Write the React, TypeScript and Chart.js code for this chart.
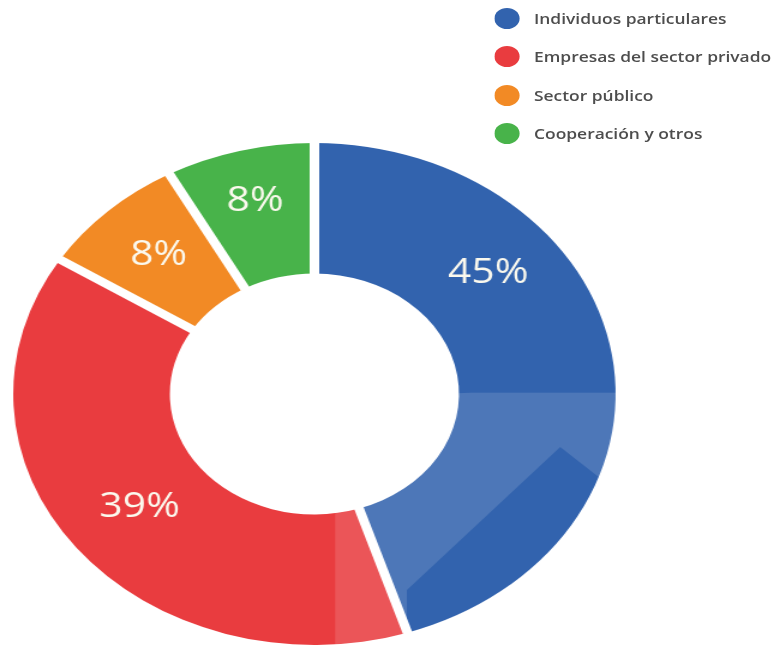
import React, { useEffect, useRef } from "react";
import { Chart, registerables } from "chart.js";

Chart.register(...registerables);

const categories = [
  "Individuos particulares",
  "Empresas del sector privado",
  "Sector público",
  "Cooperación y otros",
];
const shares = [45, 39, 8, 8];
const valueLabels = ["45%", "39%", "8%", "8%"];
const colors = ["#3263ae", "#e93c3f", "#f28a25", "#48b34a"];
const labelArcFraction = [0.31, 0.5, 0.5, 0.5];
const labelRingFraction = [0.52, 0.49, 0.53, 0.6];

const STRETCH = 1.2;
const BASE_W = 646;
const BASE_H = 645;
const GAP = 8;

// decorative sheen (relative to ring centre, in units of outer radius)
const sheenRect = { left: 0.069, top: -0.005, size: 2, corner: 0.45 };
const sheenCutout = [
  [0.307, 0.781],
  [0.816, 0.211],
  [0.948, 0.335],
  [1.6, 0.335],
  [1.6, 1.6],
  [0.307, 1.6],
];

export default function App() {
  const ref = useRef<HTMLCanvasElement | null>(null);

  useEffect(() => {
    if (!ref.current) return;

    const sheenPlugin = {
      id: "sheen",
      afterDatasetsDraw(chart: any) {
        const ctx = chart.ctx;
        const arc: any = chart.getDatasetMeta(0).data[0];
        if (!arc) return;
        const { x, y, outerRadius: R } = arc.getProps(["x", "y", "outerRadius"], true);
        ctx.save();
        ctx.globalCompositeOperation = "source-atop";
        ctx.beginPath();
        const l = x + sheenRect.left * R;
        const t = y + sheenRect.top * R;
        const s = sheenRect.size * R;
        ctx.roundRect(l, t, s, s, sheenRect.corner * R);
        sheenCutout.forEach(([px, py], i) => {
          const X = x + px * R;
          const Y = y + py * R;
          if (i === 0) ctx.moveTo(X, Y);
          else ctx.lineTo(X, Y);
        });
        ctx.closePath();
        ctx.fillStyle = "rgba(255,255,255,0.13)";
        ctx.fill("evenodd");
        ctx.restore();
      },
    };

    const gapPlugin = {
      id: "sliceGaps",
      afterDatasetsDraw(chart: any) {
        const ctx = chart.ctx;
        const meta = chart.getDatasetMeta(0);
        ctx.save();
        ctx.strokeStyle = "#ffffff";
        ctx.lineWidth = GAP;
        ctx.lineCap = "butt";
        meta.data.forEach((arc: any) => {
          const p = arc.getProps(["x", "y", "startAngle", "outerRadius"], true);
          const r = p.outerRadius + 6;
          ctx.beginPath();
          ctx.moveTo(p.x, p.y);
          ctx.lineTo(p.x + Math.cos(p.startAngle) * r, p.y + Math.sin(p.startAngle) * r);
          ctx.stroke();
        });
        ctx.restore();
      },
    };

    const labelPlugin = {
      id: "sliceLabels",
      afterDatasetsDraw(chart: any) {
        const ctx = chart.ctx;
        const meta = chart.getDatasetMeta(0);
        ctx.save();
        ctx.font = "34px 'Open Sans'";
        ctx.fillStyle = "#fbf9ee";
        ctx.textAlign = "center";
        ctx.textBaseline = "middle";
        meta.data.forEach((arc: any, i: number) => {
          const p = arc.getProps(
            ["x", "y", "startAngle", "endAngle", "innerRadius", "outerRadius"],
            true
          );
          const a = p.startAngle + (p.endAngle - p.startAngle) * labelArcFraction[i];
          const r = p.innerRadius + (p.outerRadius - p.innerRadius) * labelRingFraction[i];
          ctx.fillText(valueLabels[i], p.x + Math.cos(a) * r, p.y + Math.sin(a) * r);
        });
        ctx.restore();
      },
    };

    const chart = new Chart(ref.current, {
      type: "doughnut",
      data: {
        labels: categories,
        datasets: [
          {
            data: shares,
            backgroundColor: colors,
            borderWidth: 0,
          } as any,
        ],
      },
      options: {
        animation: false,
        responsive: true,
        maintainAspectRatio: false,
        cutout: "48%",
        layout: { padding: { top: 143, bottom: 0, left: 11, right: 133 } },
        plugins: {
          legend: { display: false },
          tooltip: { enabled: false },
        },
      } as any,
      plugins: [sheenPlugin, gapPlugin, labelPlugin],
    });
    return () => chart.destroy();
  }, []);

  return (
    <div
      style={{
        position: "absolute",
        left: 0,
        top: 0,
        width: BASE_W,
        height: BASE_H,
        transform: `scaleX(${STRETCH})`,
        transformOrigin: "0 0",
        background: "#fff",
        overflow: "hidden",
      }}
    >
      <div style={{ position: "absolute", left: 0, top: 0, width: BASE_W, height: BASE_H }}>
        <canvas ref={ref} />
      </div>
      <div
        style={{
          position: "absolute",
          left: 412,
          top: 0,
          fontFamily: "'Open Sans', sans-serif",
          fontSize: 14.5,
          fontWeight: 600,
          color: "#4d4d4d",
          whiteSpace: "nowrap",
        }}
      >
        {categories.map((c, i) => (
          <div
            key={c}
            style={{ display: "flex", alignItems: "center", height: 38.5, marginTop: i === 0 ? -1 : 0 }}
          >
            <span
              style={{
                display: "inline-block",
                width: 21,
                height: 21,
                borderRadius: "50%",
                background: colors[i],
                marginRight: 12,
              }}
            />
            <span>{c}</span>
          </div>
        ))}
      </div>
    </div>
  );
}
